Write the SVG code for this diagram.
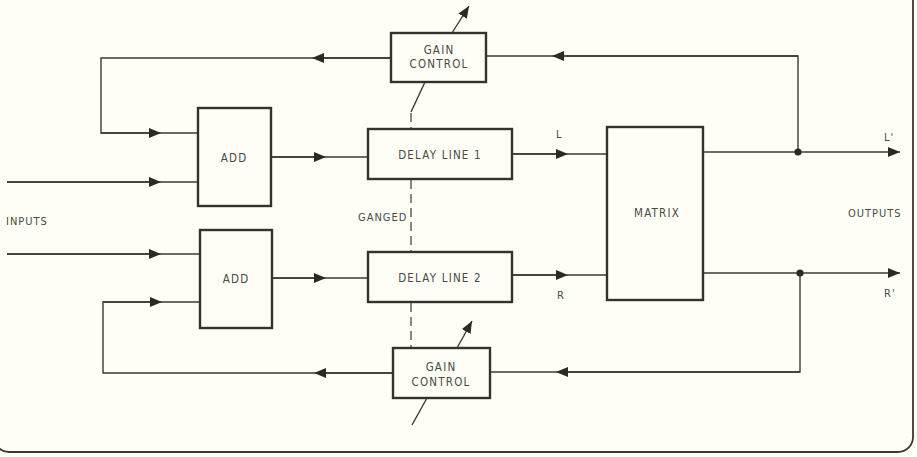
<svg xmlns="http://www.w3.org/2000/svg" width="917" height="457" viewBox="0 0 917 457">
<style>
.bg{fill:#fefef7}
.box{fill:#fefef7;stroke:#33332a;stroke-width:2.4}
.ln{fill:none;stroke:#3a3a30;stroke-width:1.4}
.dash{fill:none;stroke:#3a3a30;stroke-width:1.2;stroke-dasharray:9 5}
.t{font-family:"DejaVu Sans Condensed","DejaVu Sans",sans-serif;font-stretch:condensed;font-size:11.5px;fill:#4a4a42;letter-spacing:1.2px;text-anchor:middle}
.lab{font-family:"DejaVu Sans Condensed","DejaVu Sans",sans-serif;font-stretch:condensed;font-size:11px;fill:#4a4a42;letter-spacing:1px}
.dot{fill:#2a2a22}
</style>
<defs>
<marker id="ah" viewBox="0 0 12 10" refX="6" refY="5" markerWidth="12" markerHeight="10" markerUnits="userSpaceOnUse" orient="auto">
<path d="M0,0 L12,5 L0,10 Z" fill="#2a2a22"/>
</marker>
<marker id="tip" viewBox="0 0 12 10" refX="12" refY="5" markerWidth="12" markerHeight="10" markerUnits="userSpaceOnUse" orient="auto">
<path d="M0,0 L12,5 L0,10 Z" fill="#2a2a22"/>
</marker>
</defs>
<rect class="bg" x="0" y="0" width="917" height="457"/>
<rect x="-6" y="-20" width="919" height="472" rx="15" fill="none" stroke="#3a3a30" stroke-width="1.8"/>

<g id="connectors">
<!-- inputs -->
<path class="ln" d="M7,182 H198"/>
<path class="ln" d="M7,182 H155" marker-end="url(#ah)"/>
<path class="ln" d="M7,254 H200"/>
<path class="ln" d="M7,254 H155" marker-end="url(#ah)"/>
<!-- top feedback -->
<path class="ln" d="M798,152 V56 H486"/>
<path class="ln" d="M798,56 H558" marker-end="url(#ah)"/>
<path class="ln" d="M391,58 H101 V133 H198"/>
<path class="ln" d="M391,58 H318" marker-end="url(#ah)"/>
<path class="ln" d="M101,133 H155" marker-end="url(#ah)"/>
<!-- bottom feedback -->
<path class="ln" d="M800,273 V372 H490"/>
<path class="ln" d="M800,372 H562" marker-end="url(#ah)"/>
<path class="ln" d="M393,373 H103 V302 H200"/>
<path class="ln" d="M393,373 H320" marker-end="url(#ah)"/>
<path class="ln" d="M103,302 H156" marker-end="url(#ah)"/>
<!-- add to delay -->
<path class="ln" d="M271,157 H368"/>
<path class="ln" d="M271,157 H320" marker-end="url(#ah)"/>
<path class="ln" d="M272,278 H368"/>
<path class="ln" d="M272,278 H320" marker-end="url(#ah)"/>
<!-- delay to matrix -->
<path class="ln" d="M512,154 H607"/>
<path class="ln" d="M512,154 H562" marker-end="url(#ah)"/>
<path class="ln" d="M512,275 H607"/>
<path class="ln" d="M512,275 H562" marker-end="url(#ah)"/>
<!-- outputs -->
<path class="ln" d="M703,152 H900" marker-end="url(#tip)"/>
<path class="ln" d="M703,273 H900" marker-end="url(#tip)"/>
<circle class="dot" cx="798" cy="152" r="3.6"/>
<circle class="dot" cx="800" cy="273" r="3.6"/>
<!-- gain control adjust arrows and ganged link -->
<path class="ln" d="M452,33 L469,6" marker-end="url(#tip)"/>
<path class="ln" d="M425,82 L411,112"/>
<path class="dash" d="M411,113 V129"/>
<path class="dash" d="M411,180 V252"/>
<path class="dash" d="M411,303 V348"/>
<path class="ln" d="M457,348 L472,321" marker-end="url(#tip)"/>
<path class="ln" d="M427,398 L412,425"/>
</g>

<g id="gain-control-top">
<rect class="box" x="391" y="33" width="95" height="49"/>
<text class="t" x="439" y="54">GAIN</text>
<text class="t" x="439" y="68">CONTROL</text>
</g>
<g id="add-1">
<rect class="box" x="198" y="108" width="73" height="98"/>
<text class="t" x="234" y="162">ADD</text>
</g>
<g id="add-2">
<rect class="box" x="200" y="230" width="72" height="98"/>
<text class="t" x="236" y="283">ADD</text>
</g>
<g id="delay-line-1">
<rect class="box" x="368" y="129" width="144" height="50"/>
<text class="t" x="440" y="159">DELAY LINE 1</text>
</g>
<g id="delay-line-2">
<rect class="box" x="368" y="252" width="144" height="50"/>
<text class="t" x="440" y="282">DELAY LINE 2</text>
</g>
<g id="matrix">
<rect class="box" x="607" y="127" width="96" height="173"/>
<text class="t" x="657" y="217">MATRIX</text>
</g>
<g id="gain-control-bottom">
<rect class="box" x="393" y="348" width="97" height="50"/>
<text class="t" x="441" y="371">GAIN</text>
<text class="t" x="441" y="386">CONTROL</text>
</g>
<g id="labels">
<text class="lab" x="6" y="225">INPUTS</text>
<text class="lab" x="848" y="217">OUTPUTS</text>
<text class="lab" x="358" y="221">GANGED</text>
<text class="lab" x="556" y="138">L</text>
<text class="lab" x="557" y="299">R</text>
<text class="lab" x="884" y="141">L'</text>
<text class="lab" x="884" y="297">R'</text>
</g>
</svg>
